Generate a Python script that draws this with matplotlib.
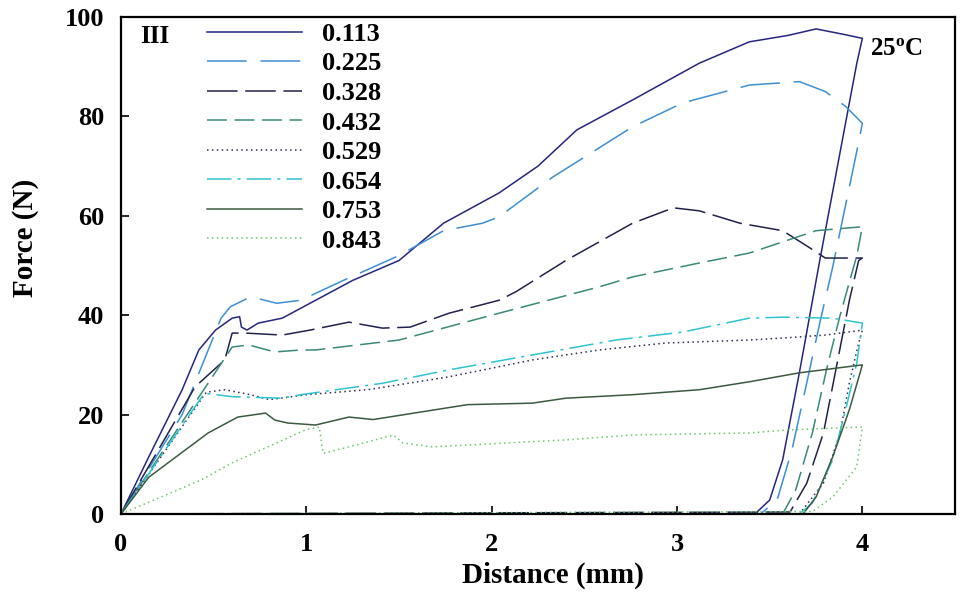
import matplotlib
matplotlib.use("Agg")
import matplotlib.pyplot as plt

plt.rcParams['font.family'] = ['Liberation Serif', 'DejaVu Serif']
plt.rcParams['font.weight'] = 'bold'
plt.rcParams['mathtext.default'] = 'regular'

labels = ["0.113", "0.225", "0.328", "0.432", "0.529", "0.654", "0.753", "0.843"]

x_113 = [0, 0.15, 0.33, 0.42, 0.51, 0.60, 0.64, 0.65, 0.68, 0.74, 0.87, 1.0, 1.25, 1.5, 1.74, 2.04, 2.25, 2.46, 2.76, 3.12, 3.39, 3.6, 3.75, 3.9, 4.0, 3.97, 3.77, 3.66, 3.57, 3.50, 3.42, 0]
y_113 = [0, 11.5, 25, 33, 37, 39.4, 39.7, 37.6, 37, 38.4, 39.4, 42, 47, 51, 58.5, 64.6, 70, 77.3, 83.3, 90.7, 95, 96.3, 97.6, 96.5, 95.7, 90.7, 51, 28.4, 10.9, 2.8, 0, 0]

x_225 = [0, 0.33, 0.54, 0.59, 0.7, 0.84, 0.97, 1.2, 1.5, 1.74, 1.95, 2.04, 2.33, 2.76, 3.03, 3.39, 3.66, 3.8, 3.91, 4.0, 3.97, 3.84, 3.77, 3.70, 3.62, 3.54, 3.45, 0]
y_225 = [0, 20, 39.4, 41.7, 43.7, 42.4, 43, 47, 52, 57, 58.5, 59.8, 67.8, 77.9, 82.7, 86.3, 87, 85, 82, 78.6, 73, 49.7, 38.4, 26.4, 12.9, 2.8, 0, 0]

x_328 = [0, 0.4, 0.56, 0.6, 0.67, 0.87, 1.02, 1.23, 1.41, 1.56, 1.77, 2.04, 2.13, 2.4, 2.76, 2.98, 3.12, 3.34, 3.57, 3.71, 3.8, 4.0, 3.98, 3.93, 3.86, 3.79, 3.70, 3.61, 0]
y_328 = [0, 25.6, 31, 36.4, 36.4, 36, 37, 38.6, 37.4, 37.6, 40.4, 43, 44.7, 51, 58.5, 61.6, 61, 58.5, 57, 53.7, 51.5, 51.5, 51, 43, 29.6, 16.3, 6.2, 0.4, 0]

x_432 = [0, 0.6, 0.69, 0.83, 0.97, 1.05, 1.5, 2.04, 2.58, 2.76, 3.12, 3.39, 3.75, 4.0, 3.97, 3.88, 3.81, 3.73, 3.64, 3.57, 0]
y_432 = [0, 33.6, 34, 32.6, 33, 33, 35, 40.4, 45.7, 47.7, 50.5, 52.5, 57, 57.8, 52, 40, 29.6, 16.3, 4.8, 0, 0]

x_529 = [0, 0.46, 0.56, 0.7, 0.8, 1.0, 1.33, 1.77, 2.22, 2.58, 2.94, 3.39, 3.57, 3.8, 4.0, 3.98, 3.93, 3.88, 3.79, 3.66, 0]
y_529 = [0, 24.5, 25, 24, 23, 24, 25, 27.6, 31, 33, 34.4, 35, 35.4, 36, 37, 34.4, 26.4, 16.3, 6.2, 0, 0]

x_654 = [0, 0.45, 0.6, 0.87, 0.97, 1.41, 1.77, 2.22, 2.67, 3.03, 3.39, 3.57, 3.84, 4.0, 3.97, 3.91, 3.84, 3.73, 3.66, 0]
y_654 = [0, 24.3, 23.6, 23.3, 24, 26.3, 29, 32, 35, 36.6, 39.4, 39.6, 39.4, 38.4, 30.4, 21, 10.9, 2.2, 0, 0]

x_753 = [0, 0.15, 0.47, 0.63, 0.78, 0.83, 0.9, 1.05, 1.23, 1.36, 1.87, 2.22, 2.4, 2.76, 3.12, 3.39, 3.66, 4.0, 3.93, 3.84, 3.75, 3.68, 0]
y_753 = [0, 7.4, 16.3, 19.5, 20.3, 18.9, 18.3, 17.9, 19.5, 19, 22, 22.3, 23.3, 24, 25, 26.6, 28.4, 30, 21, 11.5, 3.4, 0, 0]

x_843 = [0, 0.43, 0.6, 1.0, 1.07, 1.09, 1.23, 1.47, 1.52, 1.68, 2.4, 2.76, 3.39, 3.59, 4.0, 3.97, 3.84, 3.73, 0]
y_843 = [0, 6.8, 10.3, 17, 17.5, 12.2, 13.5, 15.9, 14.3, 13.5, 14.9, 15.9, 16.3, 16.9, 17.5, 9.5, 3.4, 0.5, 0]

xs = [x_113, x_225, x_328, x_432, x_529, x_654, x_753, x_843]
ys = [y_113, y_225, y_328, y_432, y_529, y_654, y_753, y_843]

colors = ['#26267f', '#3d8fd6', '#22224e', '#3a8a7a', '#30304f', '#2ec4d0', '#3c5a40', '#6cc86c']
styles = ['-', (0, (26, 9)), (0, (20, 5)), (0, (13, 5)), (0, (1, 2.2)),
          (0, (16, 4, 2, 4)), '-', (0, (1, 2.2))]

x_ticks = [0, 1, 2, 3, 4]
y_ticks = [0, 20, 40, 60, 80, 100]

fig = plt.figure(figsize=(9.61, 5.92), dpi=100)
ax = fig.add_axes([0.1259, 0.1318, 0.8679, 0.8395])

for x, y, c, ls, lab in zip(xs, ys, colors, styles, labels):
    ax.plot(x, y, color=c, linestyle=ls, linewidth=1.1, label=lab)

ax.set_xlim(0, 4.5)
ax.set_ylim(0, 100)
ax.set_xticks(x_ticks)
ax.set_yticks(y_ticks)
ax.tick_params(direction='in', length=6, width=1.2, labelsize=19,
               top=False, right=False)
ax.tick_params(axis='x', pad=14)
ax.tick_params(axis='y', pad=12)
for s in ax.spines.values():
    s.set_linewidth(1.6)

ax.set_xlabel("Distance (mm)", fontsize=21, fontweight='bold', va='center')
ax.xaxis.set_label_coords(0.518, -0.123)
ax.set_ylabel("Force (N)", fontsize=21, fontweight='bold', va='center')
ax.yaxis.set_label_coords(-0.114, 0.555)

ax.text(0.023, 0.948, "III", transform=ax.transAxes, fontsize=18,
        fontweight='bold', va='baseline', ha='left')
ax.text(0.898, 0.923, "25$^{o}$C", transform=ax.transAxes, fontsize=18,
        fontweight='bold', va='baseline', ha='left')

leg = ax.legend(loc='upper left', bbox_to_anchor=(0.103, 0.989), frameon=False,
                fontsize=19, handlelength=3.6, handletextpad=0.76,
                labelspacing=0.23, borderpad=0, borderaxespad=0)

fig.savefig("out.png", dpi=100)
